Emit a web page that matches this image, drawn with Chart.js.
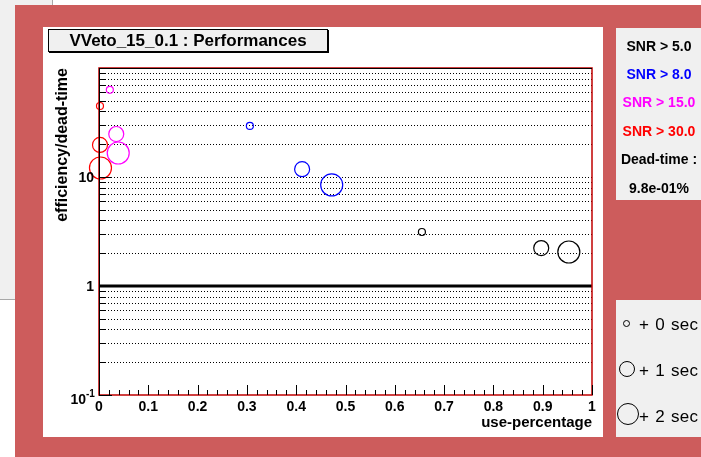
<!DOCTYPE html>
<html><head><meta charset="utf-8">
<script src="https://cdn.jsdelivr.net/npm/chart.js@4/dist/chart.umd.min.js"></script>
<style>
html,body{margin:0;padding:0;width:701px;height:457px;overflow:hidden;background:#fff;font-family:"Liberation Sans",Arial,Helvetica,sans-serif;}
.abs{position:absolute;box-sizing:border-box;}
#bg{left:0;top:0;width:53px;height:300px;background:#f0f0f0;border-right:1px solid #a8a8a8;border-bottom:1px solid #a8a8a8;}
#frame{left:15px;top:5px;width:686px;height:452px;background:#cd5c5c;}
#pad{left:43px;top:27px;width:560px;height:410px;background:#fff;}
#title{left:48px;top:29px;width:280px;height:23px;background:#f0f0f0;border:1px solid #000;box-shadow:1px 1px 0 #000;font-weight:bold;font-size:17px;line-height:21px;text-align:center;color:#000;}
#box1{left:616px;top:28px;width:90px;height:172px;background:#f0f0f0;}
#box2{left:616px;top:300px;width:90px;height:137px;background:#f0f0f0;}
.lt{position:absolute;left:616px;width:86px;height:18px;line-height:18px;text-align:center;font-weight:bold;font-size:14px;}
.st{position:absolute;left:639px;height:20px;line-height:20px;font-size:17px;letter-spacing:0.3px;word-spacing:1px;color:#000;white-space:pre;}
.cc{position:absolute;border:1px solid #000;border-radius:50%;box-sizing:border-box;}
canvas{position:absolute;left:0;top:0;}
</style></head>
<body>
<div id="bg" class="abs"></div>
<div id="frame" class="abs"></div>
<div id="pad" class="abs"></div>
<div id="box1" class="abs"></div>
<div id="box2" class="abs"></div>
<canvas id="c" width="701" height="457"></canvas>
<div id="title" class="abs">VVeto_15_0.1 : Performances</div>
<div class="lt" style="top:37px;color:#000">SNR &gt; 5.0</div>
<div class="lt" style="top:65px;color:#0000ff">SNR &gt; 8.0</div>
<div class="lt" style="top:93px;color:#ff00ff">SNR &gt; 15.0</div>
<div class="lt" style="top:122px;color:#ff0000">SNR &gt; 30.0</div>
<div class="lt" style="top:150px;color:#000">Dead-time :</div>
<div class="lt" style="top:179px;color:#000">9.8e-01%</div>
<div class="cc" style="left:623px;top:320px;width:7px;height:7px"></div>
<div class="cc" style="left:619px;top:361px;width:16px;height:16px"></div>
<div class="cc" style="left:617px;top:403px;width:22px;height:22px"></div>
<div class="st" style="top:315px">+ 0 sec</div>
<div class="st" style="top:361px">+ 1 sec</div>
<div class="st" style="top:407px">+ 2 sec</div>
<script>
// ---- data ----
const delaysSec = [0, 1, 2];
const snrLabels = ["SNR > 5.0", "SNR > 8.0", "SNR > 15.0", "SNR > 30.0"];
const snr5X  = [0.655, 0.897, 0.953];
const snr5Y  = [3.13, 2.23, 2.05];
const snr8X  = [0.306, 0.412, 0.472];
const snr8Y  = [29.4, 11.8, 8.45];
const snr15X = [0.022, 0.035, 0.039];
const snr15Y = [63, 24.8, 16.6];
const snr30X = [0.002, 0.002, 0.003];
const snr30Y = [44.8, 19.7, 12.1];
const xTickLabels = ["0","0.1","0.2","0.3","0.4","0.5","0.6","0.7","0.8","0.9","1"];
const yTickLabels = ["1", "10"];

// ---- styling ----
const radiusForDelay = d => [3.5, 7.5, 11][d];
const colors = ["#000000", "#0000ff", "#ff00ff", "#ff0000"];
const seriesX = [snr5X, snr8X, snr15X, snr30X];
const seriesY = [snr5Y, snr8Y, snr15Y, snr30Y];

const datasets = seriesX.map((xs, k) => ({
  label: snrLabels[k],
  data: xs.map((v, i) => ({x: v, y: seriesY[k][i], r: radiusForDelay(delaysSec[i])})),
  borderColor: colors[k],
  backgroundColor: 'rgba(0,0,0,0)',
  borderWidth: 1.2,
  clip: false
}));

const FONT = '"Liberation Sans", Arial, sans-serif';
function line(ctx, x1, y1, x2, y2){ctx.beginPath();ctx.moveTo(x1,y1);ctx.lineTo(x2,y2);ctx.stroke();}

const rootAxes = {
  id: 'rootAxes',
  beforeDatasetsDraw(chart){
    const {ctx, chartArea: a, scales: {x, y}} = chart;
    ctx.save();
    ctx.strokeStyle = '#000';
    ctx.lineWidth = 1;
    ctx.setLineDash([1, 2]);
    for (let dec = 0.1; dec < 100; dec *= 10) {
      for (let m = 2; m <= 10; m++) {
        const v = dec * m;
        if (Math.abs(v - 1) < 1e-9 || v >= 99.999) continue;
        const py = Math.round(y.getPixelForValue(v)) + 0.5;
        line(ctx, a.left, py, a.right, py);
      }
    }
    ctx.setLineDash([]);
    // thick line at 1
    ctx.lineWidth = 3;
    const p1 = Math.round(y.getPixelForValue(1));
    line(ctx, a.left, p1, a.right, p1);
    ctx.restore();
  },
  afterDatasetsDraw(chart){
    const {ctx, chartArea: a, scales: {x, y}} = chart;
    ctx.save();
    // frame
    ctx.strokeStyle = '#c00000';
    ctx.lineWidth = 1.5;
    ctx.strokeRect(a.left, a.top, a.right - a.left, a.bottom - a.top);
    ctx.strokeStyle = '#000';
    ctx.lineWidth = 1;
    line(ctx, a.left + 0.5, a.top, a.left + 0.5, a.bottom);
    line(ctx, a.left, a.top + 0.5, a.right, a.top + 0.5);
    // y ticks
    for (let dec = 0.1; dec < 100; dec *= 10) {
      for (let m = 1; m <= 10; m++) {
        const v = dec * m;
        const py = Math.round(y.getPixelForValue(v)) + 0.5;
        const major = (m === 1 || m === 10);
        line(ctx, a.left, py, a.left + (major ? 13 : 6), py);
      }
    }
    // x ticks
    for (let i = 0; i <= 50; i++) {
      const px = Math.round(x.getPixelForValue(i / 50)) + 0.5;
      const major = i % 5 === 0;
      line(ctx, px, a.bottom, px, a.bottom - (major ? 10 : 5));
    }
    // x labels
    ctx.fillStyle = '#000';
    ctx.font = 'bold 14px ' + FONT;
    ctx.textAlign = 'center';
    ctx.textBaseline = 'middle';
    xTickLabels.forEach((t, i) => {
      ctx.fillText(t, x.getPixelForValue(i / 10), a.bottom + 12);
    });
    // y labels
    ctx.textAlign = 'right';
    yTickLabels.forEach(t => {
      ctx.fillText(t, a.left - 5, y.getPixelForValue(parseFloat(t)) + 1);
    });
    // 10^-1
    const pb = y.getPixelForValue(0.1);
    ctx.textAlign = 'right';
    ctx.fillText('10', a.left - 13, pb + 5);
    ctx.font = 'bold 10px ' + FONT;
    ctx.textAlign = 'left';
    ctx.fillText('-1', a.left - 13, pb - 1);
    // axis titles
    ctx.font = 'bold 15px ' + FONT;
    ctx.textAlign = 'right';
    ctx.fillText('use-percentage', a.right, a.bottom + 28);
    ctx.save();
    ctx.font = 'bold 16px ' + FONT;
    ctx.translate(63, a.top);
    ctx.rotate(-Math.PI / 2);
    ctx.textAlign = 'right';
    ctx.fillText('efficiency/dead-time', 0, 0);
    ctx.restore();
    ctx.restore();
  }
};

new Chart(document.getElementById('c'), {
  type: 'bubble',
  data: {datasets},
  options: {
    responsive: false,
    animation: false,
    events: [],
    layout: {padding: {left: 99, right: 109, top: 68, bottom: 62}},
    plugins: {legend: {display: false}, tooltip: {enabled: false}, title: {display: false}},
    scales: {
      x: {type: 'linear', min: 0, max: 1, display: false},
      y: {type: 'logarithmic', min: 0.1, max: 100, display: false}
    }
  },
  plugins: [rootAxes]
});
</script>
</body></html>
